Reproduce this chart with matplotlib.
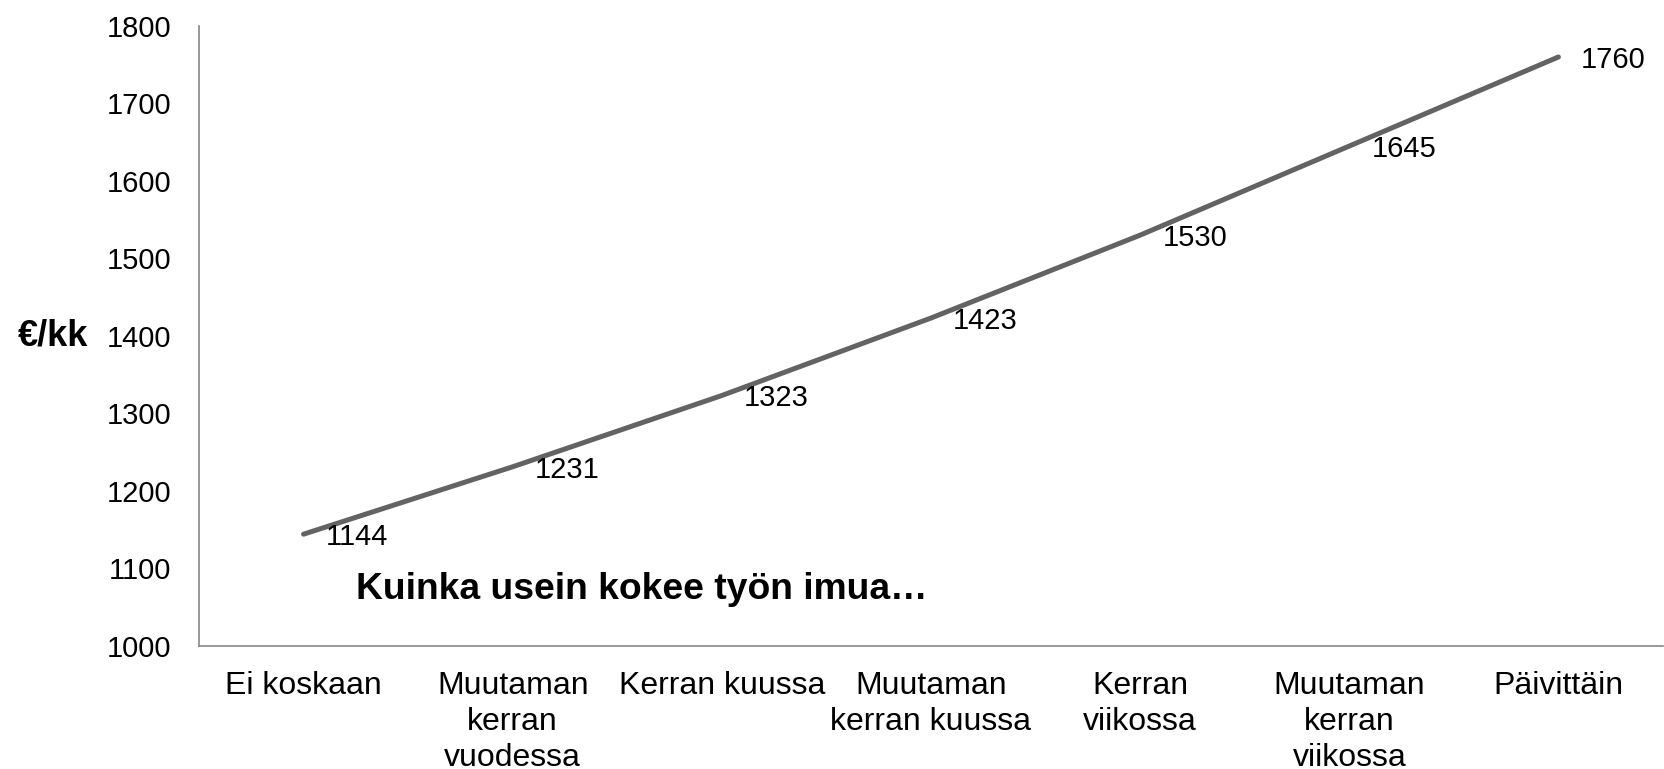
import matplotlib
matplotlib.use("Agg")
import matplotlib.pyplot as plt

plt.rcParams['font.family'] = ['Liberation Sans', 'DejaVu Sans']

categories = ["Ei koskaan", "Muutaman\nkerran\nvuodessa", "Kerran kuussa",
              "Muutaman\nkerran kuussa", "Kerran\nviikossa",
              "Muutaman\nkerran\nviikossa", "Päivittäin"]
salary = [1144, 1231, 1323, 1423, 1530, 1645, 1760]
yticks = [1000, 1100, 1200, 1300, 1400, 1500, 1600, 1700, 1800]

fig = plt.figure(figsize=(16.65, 7.69), dpi=100)
ax = fig.add_axes([0.1195, 0.1603, 0.8793, 0.8059])

x = list(range(len(categories)))
ax.plot(x, salary, color='#636363', linewidth=3.6, solid_capstyle='round')

for xi, v in zip(x, salary):
    ax.annotate(str(v), (xi, v), xytext=(16, -2), textcoords='offset points',
                ha='left', va='center', fontsize=21)

ax.set_xlim(-0.5, len(categories) - 0.5)
ax.set_ylim(1000, 1800)
ax.set_yticks(yticks)
ax.set_xticks(x)
ax.set_xticklabels(categories, fontsize=23, linespacing=1.27, va='top')
ax.tick_params(axis='y', labelsize=21, length=0, pad=20)
ax.tick_params(axis='x', length=0, pad=18)

for s in ['top', 'right']:
    ax.spines[s].set_visible(False)
for s in ['left', 'bottom']:
    ax.spines[s].set_color('#868686')
    ax.spines[s].set_linewidth(1.2)

ax.text(-0.1236, 0.5, "€/kk", transform=ax.transAxes, fontsize=26,
        fontweight='bold', ha='left', va='center')
ax.text(0.107, 0.09, "Kuinka usein kokee työn imua…", transform=ax.transAxes,
        fontsize=26.8, fontweight='bold', ha='left', va='center')

fig.savefig("out.png", dpi=100)
